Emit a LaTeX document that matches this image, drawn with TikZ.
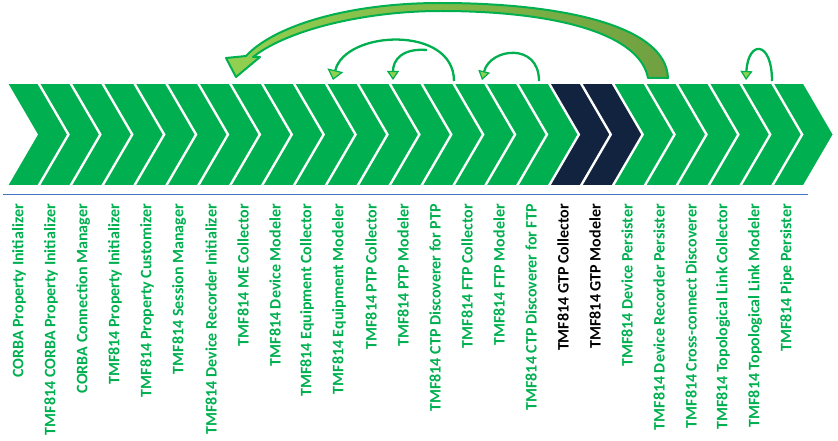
\documentclass[tikz,border=0pt]{standalone}
\usepackage{fontspec}
\setmainfont{Carlito}
\usetikzlibrary{arrows.meta}
\definecolor{cgreen}{HTML}{00B050}
\definecolor{cdark}{HTML}{12233F}
\definecolor{clight}{HTML}{92D050}
\definecolor{colive}{HTML}{70A040}
\definecolor{cblue}{HTML}{4472C4}
\tikzset{
  chev/.style={fill=cgreen, draw=white, line width=1.6pt, line join=miter},
  lab/.style={rotate=90, anchor=east, inner sep=0pt, font=\bfseries\fontsize{16}{16}\selectfont, text=cgreen},
  loop/.style={draw=cgreen, line width=2.3pt, -{Triangle[width=16pt,length=10pt,fill=clight,line width=1.2pt]}},
  loops/.style={draw=cgreen, line width=2.3pt, -{Triangle[width=12pt,length=9pt,fill=clight,line width=1.2pt]}}
}
\begin{document}
\begin{tikzpicture}[x=1pt,y=-1pt]
\useasboundingbox (0,0) rectangle (838,441);
% chevrons
\foreach \i in {0,...,24}{
  \pgfmathsetmacro\b{7+31.9*\i}
  \pgfmathsetmacro\c{ifthenelse(\i==17 || \i==18,1,0)}
  \ifdim\c pt>0.5pt
    \path[chev,fill=cdark] (\b,83) -- ++(31,0) -- ++(30,51.5) -- ++(-30,51.5) -- ++(-31,0) -- ++(30,-51.5) -- cycle;
  \else
    \path[chev] (\b,83) -- ++(31,0) -- ++(30,51.5) -- ++(-30,51.5) -- ++(-31,0) -- ++(30,-51.5) -- cycle;
  \fi
}
\draw[cblue, line width=1pt] (3,194) -- (808,194);
% labels
\foreach \t [count=\n from 0] in {CORBA Property Initializer, TMF814 CORBA Property Initializer, CORBA Connection Manager, TMF814 Property Initializer, TMF814 Property Customizer, TMF814 Session Manager, TMF814 Device Recorder Initializer, TMF814 ME Collector, TMF814 Device Modeler, TMF814 Equipment Collector, TMF814 Equipment Modeler, TMF814 PTP Collector, TMF814 PTP Modeler, TMF814 CTP Discoverer for PTP, TMF814 FTP Collector, TMF814 FTP Modeler, TMF814 CTP Discoverer for FTP}{
  \node[lab] (l\n) at (19+32*\n,204) {\t};
}
\node[lab,text=black] (l17) at (19+32*17,204) {TMF814 GTP Collector};
\node[lab,text=black] (l18) at (19+32*18,204) {TMF814 GTP Modeler};
\foreach \t [count=\n from 19] in {TMF814 Device Persister, TMF814 Device Recorder Persister, TMF814 Cross-connect Discoverer, TMF814 Topological Link Collector, TMF814 Topological Link Modeler, TMF814 Pipe Persister}{
  \node[lab] (l\n) at (19+32*\n,204) {\t};
}
% big curved arrow
\shade[left color=clight, right color=colive, draw=cgreen, line width=2pt, line join=round]
  (668,78) .. controls (666,25) and (560,3) .. (440,3)
  .. controls (350,3) and (275,25) .. (246,56)
  -- (226,58) -- (236,77) -- (260,57) -- (253,57)
  .. controls (290,28) and (370,11) .. (440,11)
  .. controls (560,11) and (640,35) .. (648,78) -- cycle;
% small loop arrows
\coordinate (s1) at (454,81); \coordinate (e1) at (333,80);
\coordinate (s2) at (427,50); \coordinate (e2) at (393,80);
\coordinate (s3) at (539,81); \coordinate (e3) at (482,80);
\coordinate (s4) at (772,81); \coordinate (e4) at (746,80);
\draw[loop] (s1) .. controls (454,25) and (345,30) .. (e1);
\draw[loops] (s2) .. controls (402,48) and (393,60) .. (e2);
\draw[loops] (s3) .. controls (539,42) and (490,48) .. (e3);
\draw[loops] (s4) .. controls (772,40) and (748,40) .. (e4);
\end{tikzpicture}
\end{document}
